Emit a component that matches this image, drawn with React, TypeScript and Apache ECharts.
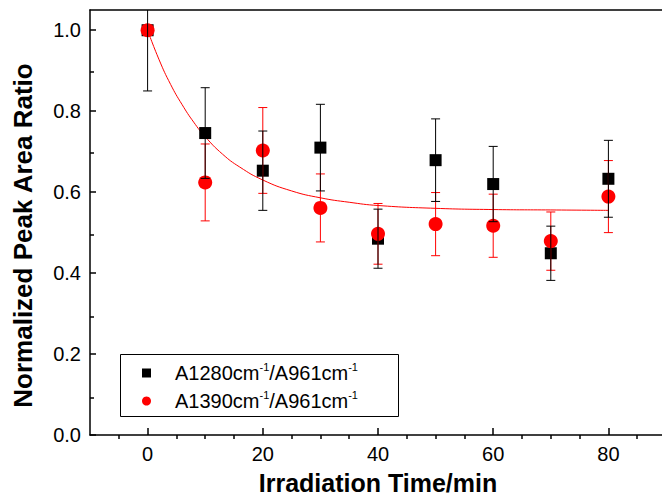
import React, { useEffect, useRef } from "react";
import * as echarts from "echarts";

// ---- data ----
const times = [0, 10, 20, 30, 40, 50, 60, 70, 80];
const a1280 = [1.0, 0.746, 0.653, 0.71, 0.485, 0.679, 0.62, 0.449, 0.633];
const a1280Err = [0.15, 0.112, 0.098, 0.107, 0.073, 0.102, 0.093, 0.067, 0.095];
const a1390 = [1.0, 0.624, 0.703, 0.561, 0.497, 0.521, 0.517, 0.479, 0.589];
const a1390Err = [0, 0.095, 0.106, 0.084, 0.075, 0.078, 0.078, 0.072, 0.089];

// exponential-decay fit line
const fitX = [0, 2, 4, 6, 8, 10, 13, 16, 20, 25, 30, 35, 40, 50, 60, 70, 80];
const fitY = [1.0, 0.927, 0.866, 0.816, 0.773, 0.737, 0.694, 0.662, 0.63, 0.603, 0.586, 0.575, 0.567, 0.56, 0.557, 0.556, 0.555];

const xTickLabels = [0, 20, 40, 60, 80];
const xMinorTicks = [-5, 5, 10, 15, 25, 30, 35, 45, 50, 55, 65, 70, 75, 85];
const yTickLabels = [0, 0.2, 0.4, 0.6, 0.8, 1.0];
const yMinorTicks = [0.1, 0.3, 0.5, 0.7, 0.9];

const name1280 = "A1280cm-1/A961cm-1";
const name1390 = "A1390cm-1/A961cm-1";

const FONT = '"Liberation Sans", Arial, Helvetica, sans-serif';

function errRenderer(color: string) {
  return (params: any, api: any) => {
    const x = api.value(0);
    const lo = api.value(1);
    const hi = api.value(2);
    const pLo = api.coord([x, lo]);
    const pHi = api.coord([x, hi]);
    const hw = 4.5;
    const st = { stroke: color, lineWidth: 1 };
    return {
      type: "group",
      children: [
        { type: "line", shape: { x1: pLo[0], y1: pLo[1], x2: pHi[0], y2: pHi[1] }, style: st },
        { type: "line", shape: { x1: pLo[0] - hw, y1: pLo[1], x2: pLo[0] + hw, y2: pLo[1] }, style: st },
        { type: "line", shape: { x1: pHi[0] - hw, y1: pHi[1], x2: pHi[0] + hw, y2: pHi[1] }, style: st },
      ],
    };
  };
}

function legendRich(name: string) {
  const parts = name.split("-1");
  return `{sp| }{a|${parts[0]}}{s|-1}{a|${parts[1]}}{s|-1}`;
}

export default function App() {
  const ref = useRef<HTMLDivElement>(null);
  useEffect(() => {
    if (!ref.current) return;
    const chart = echarts.init(ref.current, undefined, { renderer: "svg" });
    const axisLineStyle = { color: "#000", width: 1.5 };
    const tickLine = { color: "#000", width: 1.5 };
    const xRange = { min: -10, max: 90 };
    const yRange = { min: 0, max: 1.05 };
    const gridRect = { left: 90, top: 10, right: 14, bottom: 61, show: false, containLabel: false };
    chart.setOption({
      animation: false,
      backgroundColor: "#fff",
      grid: [gridRect, gridRect, gridRect],
      xAxis: [
        {
          type: "value",
          gridIndex: 0,
          ...xRange,
          position: "bottom",
          name: "Irradiation Time/min",
          nameLocation: "middle",
          nameGap: 35,
          nameTextStyle: { fontFamily: FONT, fontWeight: "bold", fontSize: 25, color: "#000" },
          axisLine: { show: true, onZero: false, lineStyle: axisLineStyle },
          axisTick: { show: true, inside: true, length: 7, customValues: xTickLabels, lineStyle: tickLine },
          axisLabel: { customValues: xTickLabels, fontFamily: FONT, fontSize: 20, color: "#000", margin: 9 },
          splitLine: { show: false },
        },
        {
          type: "value",
          gridIndex: 1,
          ...xRange,
          position: "bottom",
          axisLine: { show: false, onZero: false },
          axisTick: { show: true, inside: true, length: 4, customValues: xMinorTicks, lineStyle: tickLine },
          axisLabel: { show: false },
          splitLine: { show: false },
        },
        {
          type: "value",
          gridIndex: 2,
          ...xRange,
          position: "top",
          axisLine: { show: true, onZero: false, lineStyle: axisLineStyle },
          axisTick: { show: false },
          axisLabel: { show: false },
          splitLine: { show: false },
        },
      ],
      yAxis: [
        {
          type: "value",
          gridIndex: 0,
          ...yRange,
          position: "left",
          name: "Normalized Peak Area Ratio",
          nameLocation: "middle",
          nameRotate: 90,
          nameGap: 54,
          nameTextStyle: { fontFamily: FONT, fontWeight: "bold", fontSize: 26, color: "#000", padding: [0, 26, 0, 0] },
          axisLine: { show: true, onZero: false, lineStyle: axisLineStyle },
          axisTick: { show: true, inside: true, length: 6, customValues: yTickLabels, lineStyle: tickLine },
          axisLabel: {
            customValues: yTickLabels,
            fontFamily: FONT,
            fontSize: 20,
            color: "#000",
            margin: 9,
            formatter: (v: number) => v.toFixed(1),
          },
          splitLine: { show: false },
        },
        {
          type: "value",
          gridIndex: 1,
          ...yRange,
          position: "left",
          axisLine: { show: false, onZero: false },
          axisTick: { show: true, inside: true, length: 4, customValues: yMinorTicks, lineStyle: tickLine },
          axisLabel: { show: false },
          splitLine: { show: false },
        },
        { type: "value", gridIndex: 2, ...yRange, show: false },
      ],
      legend: {
        orient: "vertical",
        left: 142,
        top: 361,
        padding: 0,
        itemWidth: 9,
        itemHeight: 9,
        itemGap: 6,
        data: [
          { name: name1280, icon: "rect" },
          { name: name1390, icon: "circle" },
        ],
        formatter: (n: string) => legendRich(n),
        textStyle: {
          fontFamily: FONT,
          color: "#000",
          rich: {
            sp: { width: 19, fontSize: 20, lineHeight: 24 },
            a: { fontFamily: FONT, fontSize: 20, lineHeight: 24, color: "#000" },
            s: { fontFamily: FONT, fontSize: 11, lineHeight: 12, verticalAlign: "top", color: "#000" },
          },
        },
      },
      graphic: [
        {
          type: "rect",
          z: 100,
          shape: { x: 120.5, y: 354.5, width: 278, height: 62 },
          style: { fill: "none", stroke: "#000", lineWidth: 1 },
        },
      ],
      series: [
        {
          name: "fit",
          type: "line",
          data: fitX.map((x, i) => [x, fitY[i]]),
          smooth: true,
          showSymbol: false,
          symbol: "none",
          lineStyle: { color: "#ff0000", width: 1 },
          z: 2,
          silent: true,
        },
        {
          name: name1280,
          type: "scatter",
          symbol: "rect",
          symbolSize: 12,
          itemStyle: { color: "#000", opacity: 1 },
          data: times.map((t, i) => [t, a1280[i]]),
          z: 3,
        },
        {
          name: name1390,
          type: "scatter",
          symbol: "circle",
          symbolSize: 14,
          itemStyle: { color: "#ff0000", opacity: 1 },
          data: times.map((t, i) => [t, a1390[i]]),
          z: 4,
        },
        {
          name: "err1390",
          type: "custom",
          clip: true,
          renderItem: errRenderer("#ff0000"),
          data: times.map((t, i) => [t, a1390[i] - a1390Err[i], a1390[i] + a1390Err[i]]),
          encode: { x: 0, y: [1, 2] },
          z: 5,
          silent: true,
        },
        {
          name: "err1280",
          type: "custom",
          clip: true,
          renderItem: errRenderer("#000"),
          data: times.map((t, i) => [t, a1280[i] - a1280Err[i], a1280[i] + a1280Err[i]]),
          encode: { x: 0, y: [1, 2] },
          z: 6,
          silent: true,
        },
      ],
    });
    return () => chart.dispose();
  }, []);
  return <div ref={ref} style={{ position: "fixed", left: 0, top: 0, width: 680, height: 500 }} />;
}
